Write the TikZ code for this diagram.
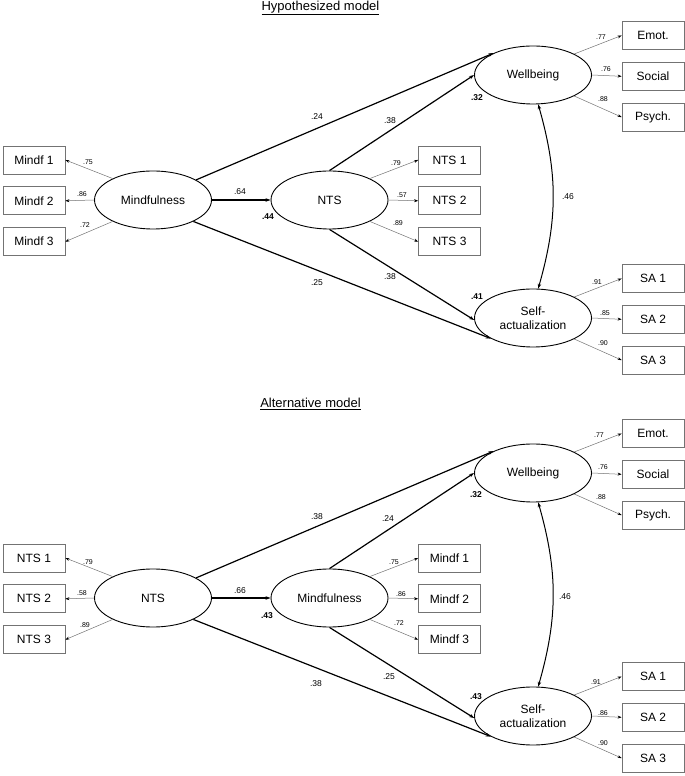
\documentclass[tikz,border=0pt]{standalone}
\usepackage{fontspec}
\setmainfont{Liberation Sans}
\usetikzlibrary{shapes.geometric, arrows.meta, positioning}

\begin{document}
\begin{tikzpicture}[x=1pt, y=1pt,
      latent/.style={draw, ellipse, line width=0.9pt, minimum width=117pt, minimum height=58pt, inner sep=0pt, align=center, font=\fontsize{12}{14.5}\selectfont},
      indicator/.style={draw=black!55, rectangle, line width=0.8pt, minimum width=62pt, minimum height=28pt, inner sep=0pt, font=\fontsize{12}{14}\selectfont},
      regress/.style={line width=1.2pt, -{Stealth[length=5pt,width=3.5pt]}},
      load/.style={black!55, line width=0.5pt, -{Stealth[length=4pt,width=3pt,black]}},
      covar/.style={line width=1pt, {Stealth[length=5pt,width=3.5pt]}-{Stealth[length=5pt,width=3.5pt]}},
      coef/.style={inner sep=0pt, font=\fontsize{8.5}{10}\selectfont},
      rsq/.style={inner sep=0pt, font=\fontsize{8.5}{10}\selectfont\bfseries},
      wt/.style={inner sep=0pt, font=\fontsize{7}{8}\selectfont},
      heading/.style={inner sep=0pt, font=\fontsize{13}{15}\selectfont}
          ]
        \useasboundingbox (0,0) rectangle (685,776);

        % Hypothesized model
        \node (htitle) [heading] at (320.5,768) {\underline{Hypothesized model}};

        % Latent variables
        \node (hmind) [latent] at (153,576) {Mindfulness};
        \node (hnts) [latent] at (329.5,576) {NTS};
        \node (hwell) [latent] at (533,701) {Wellbeing};
        \node (hsa) [latent] at (533,458) {Self-\\actualization};

        % Indicators
        \node (hmindf1) [indicator] at (34,616) {Mindf 1};
        \node (hmindf2) [indicator, below=12pt of hmindf1] {Mindf 2};
        \node (hmindf3) [indicator, below=12pt of hmindf2] {Mindf 3};
        \node (hnts1) [indicator] at (449.5,616) {NTS 1};
        \node (hnts2) [indicator, below=12pt of hnts1] {NTS 2};
        \node (hnts3) [indicator, below=12pt of hnts2] {NTS 3};
        \node (hemot) [indicator] at (653,740.5) {Emot.};
        \node (hsocial) [indicator, below=12pt of hemot] {Social};
        \node (hpsych) [indicator, below=12pt of hsocial] {Psych.};
        \node (hsa1) [indicator] at (653,497.5) {SA 1};
        \node (hsa2) [indicator, below=12pt of hsa1] {SA 2};
        \node (hsa3) [indicator, below=12pt of hsa2] {SA 3};

        % Structural paths
        \draw [regress] (hmind.east) -- (hnts.west);
        \draw [regress] (hmind.25) -- (hwell.151);
        \draw [regress] (hnts.north) -- (hwell.west);
        \draw [regress] (hmind.332) -- (hsa.206);
        \draw [regress] (hnts.south) -- (hsa.182);
        \draw [covar] (hwell.280) to[bend left=16] (hsa.80);

        % Loadings
        \draw [load] (hmind.152) -- (hmindf1.east);
        \draw [load] (hmind.west) -- (hmindf2.east);
        \draw [load] (hmind.208) -- (hmindf3.east);
        \draw [load] (hnts.28) -- (hnts1.west);
        \draw [load] (hnts.east) -- (hnts2.west);
        \draw [load] (hnts.332) -- (hnts3.west);
        \draw [load] (hwell.27) -- (hemot.west);
        \draw [load] (hwell.east) -- (hsocial.west);
        \draw [load] (hwell.333) -- (hpsych.west);
        \draw [load] (hsa.27) -- (hsa1.west);
        \draw [load] (hsa.east) -- (hsa2.west);
        \draw [load] (hsa.333) -- (hsa3.west);

        % Coefficients
        \node (hc1) [coef] at (317,659) {.24};
        \node (hc2) [coef] at (390,655) {.38};
        \node (hc3) [coef] at (240,584) {.64};
        \node (hc4) [coef] at (317,493) {.25};
        \node (hc5) [coef] at (390,499) {.38};
        \node (hc6) [coef] at (568,579) {.46};
        \node (hr1) [rsq] at (268,559) {.44};
        \node (hr2) [rsq] at (477,678) {.32};
        \node (hr3) [rsq] at (477,479) {.41};
        \node (hw1) [wt] at (88,614) {.75};
        \node (hw2) [wt] at (82,582) {.86};
        \node (hw3) [wt] at (85,551) {.72};
        \node (hw4) [wt] at (396,613) {.79};
        \node (hw5) [wt] at (402,581) {.57};
        \node (hw6) [wt] at (398,553) {.89};
        \node (hw7) [wt] at (601,739) {.77};
        \node (hw8) [wt] at (606,707) {.76};
        \node (hw9) [wt] at (603,677) {.88};
        \node (hw10) [wt] at (597,494) {.91};
        \node (hw11) [wt] at (605,463) {.85};
        \node (hw12) [wt] at (603,433) {.90};

        \begin{scope}[yshift=-398pt]
        % Alternative model
        \node (atitle) [heading] at (310.5,770) {\underline{Alternative model}};

        % Latent variables
        \node (ants) [latent] at (153,576) {NTS};
        \node (amind) [latent] at (329.5,576) {Mindfulness};
        \node (awell) [latent] at (533,701) {Wellbeing};
        \node (asa) [latent] at (533,458) {Self-\\actualization};

        % Indicators
        \node (ants1) [indicator] at (34,616) {NTS 1};
        \node (ants2) [indicator, below=12pt of ants1] {NTS 2};
        \node (ants3) [indicator, below=12pt of ants2] {NTS 3};
        \node (amindf1) [indicator] at (449.5,616) {Mindf 1};
        \node (amindf2) [indicator, below=12pt of amindf1] {Mindf 2};
        \node (amindf3) [indicator, below=12pt of amindf2] {Mindf 3};
        \node (aemot) [indicator] at (653,740.5) {Emot.};
        \node (asocial) [indicator, below=12pt of aemot] {Social};
        \node (apsych) [indicator, below=12pt of asocial] {Psych.};
        \node (asa1) [indicator] at (653,497.5) {SA 1};
        \node (asa2) [indicator, below=12pt of asa1] {SA 2};
        \node (asa3) [indicator, below=12pt of asa2] {SA 3};

        % Structural paths
        \draw [regress] (ants.east) -- (amind.west);
        \draw [regress] (ants.25) -- (awell.151);
        \draw [regress] (amind.north) -- (awell.west);
        \draw [regress] (ants.332) -- (asa.206);
        \draw [regress] (amind.south) -- (asa.182);
        \draw [covar] (awell.280) to[bend left=16] (asa.80);

        % Loadings
        \draw [load] (ants.152) -- (ants1.east);
        \draw [load] (ants.west) -- (ants2.east);
        \draw [load] (ants.208) -- (ants3.east);
        \draw [load] (amind.28) -- (amindf1.west);
        \draw [load] (amind.east) -- (amindf2.west);
        \draw [load] (amind.332) -- (amindf3.west);
        \draw [load] (awell.27) -- (aemot.west);
        \draw [load] (awell.east) -- (asocial.west);
        \draw [load] (awell.333) -- (apsych.west);
        \draw [load] (asa.27) -- (asa1.west);
        \draw [load] (asa.east) -- (asa2.west);
        \draw [load] (asa.333) -- (asa3.west);

        % Coefficients
        \node (ac1) [coef] at (317,657) {.38};
        \node (ac2) [coef] at (388,655) {.24};
        \node (ac3) [coef] at (240,583) {.66};
        \node (ac4) [coef] at (316,490) {.38};
        \node (ac5) [coef] at (389,497) {.25};
        \node (ac6) [coef] at (565,577) {.46};
        \node (ar1) [rsq] at (267,558) {.43};
        \node (ar2) [rsq] at (476,679) {.32};
        \node (ar3) [rsq] at (476,477) {.43};
        \node (aw1) [wt] at (88,612) {.79};
        \node (aw2) [wt] at (82,581) {.58};
        \node (aw3) [wt] at (85,549) {.89};
        \node (aw4) [wt] at (394,612) {.75};
        \node (aw5) [wt] at (401,580) {.86};
        \node (aw6) [wt] at (399,551) {.72};
        \node (aw7) [wt] at (599,739) {.77};
        \node (aw8) [wt] at (603,707) {.76};
        \node (aw9) [wt] at (601,677) {.88};
        \node (aw10) [wt] at (596,492) {.91};
        \node (aw11) [wt] at (603,461) {.86};
        \node (aw12) [wt] at (603,431) {.90};
        \end{scope}

          \end{tikzpicture}
\end{document}
